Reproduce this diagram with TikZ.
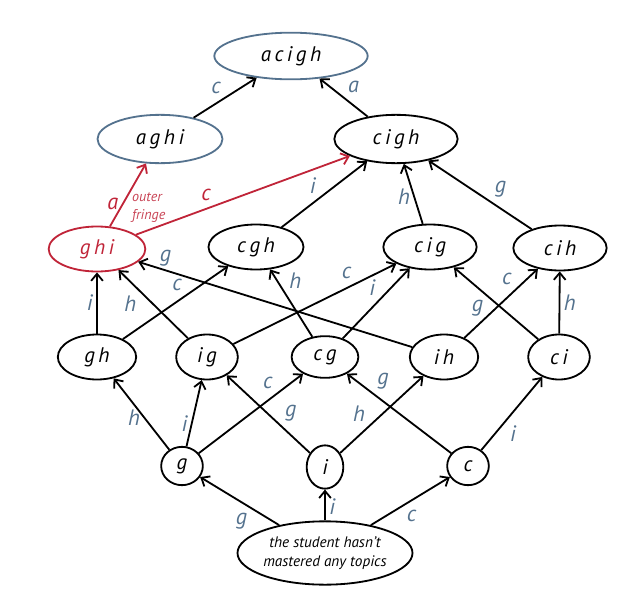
\documentclass[tikz,border=0pt]{standalone}
\usepackage{fontspec}
\setmainfont{PT Sans}
\usepackage{tikz}
\usetikzlibrary{positioning,shapes.geometric,arrows.meta}
\definecolor{slate}{RGB}{84,114,142}
\definecolor{fringe}{RGB}{192,36,56}

\begin{document}
\begin{tikzpicture}[x=0.03cm, y=-0.03cm, >={Straight Barb[length=6pt,width=10pt]}, line width=1.55pt,
    set/.style={draw, ellipse, inner sep=0pt, font=\fontsize{18}{21}\selectfont\itshape},
    lbl/.style={text=slate, font=\fontsize{19}{22}\selectfont\itshape, inner sep=3pt},
    red/.style={draw=fringe, text=fringe}]
    \useasboundingbox (0,0) rectangle (640,615);

    % Top sets
    \node[set, draw=slate, minimum width=4.6cm, minimum height=1.4cm] (acigh) at (291, 56) {a\,c\,i\,g\,h};
    \node[set, draw=slate, minimum width=3.75cm, minimum height=1.45cm] (aghi) at (160, 139) {a\,g\,h\,i};
    \node[set, minimum width=3.7cm, minimum height=1.45cm] (cigh) at (396, 139) {c\,i\,g\,h};

    % Sets of three
    \node[set, red, minimum width=2.9cm, minimum height=1.35cm] (ghi) at (97, 249) {g\,h\,i};
    \node[set, minimum width=2.85cm, minimum height=1.35cm] (cgh) at (256, 247) {c\,g\,h};
    \node[set, minimum width=2.8cm, minimum height=1.35cm] (cig) at (430, 247) {c\,i\,g};
    \node[set, minimum width=2.8cm, minimum height=1.35cm] (cih) at (560, 248) {c\,i\,h};

    % Sets of two
    \node[set, minimum width=2.35cm, minimum height=1.35cm] (gh) at (97, 357) {g\,h};
    \node[set, minimum width=1.85cm, minimum height=1.35cm] (ig) at (207, 357) {i\,g};
    \node[set, minimum width=2.0cm, minimum height=1.25cm] (cg) at (325, 357) {c\,g};
    \node[set, minimum width=2.05cm, minimum height=1.35cm] (ih) at (444, 357) {i\,h};
    \node[set, minimum width=1.85cm, minimum height=1.35cm] (ci) at (559, 357) {c\,i};

    % Single topics
    \node[set, minimum width=1.25cm, minimum height=1.15cm] (g) at (182, 466) {g};
    \node[set, minimum width=1.1cm, minimum height=1.3cm] (i) at (325, 467) {i};
    \node[set, minimum width=1.25cm, minimum height=1.15cm] (c) at (468, 466) {c};

    % Start
    \node[set, minimum width=5.25cm, minimum height=1.9cm, align=center,
        font=\fontsize{13}{16}\selectfont\itshape] (none) at (325, 553)
        {the student hasn’t\\mastered any topics};

    % Start to single topics
    \draw[->] (none) -- node[lbl, below left, pos=0.35] {g} (g);
    \draw[->] (none) -- node[lbl, right, pos=0.45] {i} (i);
    \draw[->] (none) -- node[lbl, below right, pos=0.4] {c} (c);

    % Single topics to pairs
    \draw[->] (g) -- node[lbl, left, pos=0.45] {h} (gh);
    \draw[->] (g) -- node[lbl, left, pos=0.35] {i} (ig);
    \draw[->] (g) -- node[lbl, above left, pos=0.75] {c} (cg);
    \draw[->] (i) -- node[lbl, above right, pos=0.35] {g} (ig);
    \draw[->] (i) -- node[lbl, above left, pos=0.35] {h} (ih);
    \draw[->] (c) -- node[lbl, above right, pos=0.75] {g} (cg);
    \draw[->] (c) -- node[lbl, below right, pos=0.4] {i} (ci);

    % Pairs to triples
    \draw[->] (gh) -- node[lbl, left] {i} (ghi);
    \draw[->] (gh) -- node[lbl, above left, pos=0.6] {c} (cgh);
    \draw[->] (ig) -- node[lbl, below left, pos=0.68] {h} (ghi);
    \draw[->] (ig) -- node[lbl, above left, pos=0.75] {c} (cig);
    \draw[->] (cg) -- node[lbl, above right, pos=0.65] {h} (cgh);
    \draw[->] (cg) -- node[lbl, above left, pos=0.55] {i} (cig);
    \draw[->] (ih) -- node[lbl, above, pos=0.9] {g} (ghi);
    \draw[->] (ih) -- node[lbl, above left, pos=0.7] {c} (cih);
    \draw[->] (ci) -- node[lbl, below left, pos=0.6] {g} (cig);
    \draw[->] (ci) -- node[lbl, right] {h} (cih);

    % Triples to quads
    \draw[->, draw=fringe] (ghi) -- node[lbl, text=fringe, left, pos=0.35] {a}
        node[right=9pt, pos=0.3, inner sep=0pt, text=fringe!85, align=left, font=\fontsize{12}{15}\selectfont\itshape] {outer\\fringe} (aghi);
    \draw[->, draw=fringe] (ghi) -- node[lbl, text=fringe, above left, pos=0.37] {c} (cigh);
    \draw[->] (cgh) -- node[lbl, above left, pos=0.45] {i} (cigh);
    \draw[->] (cig) -- node[lbl, left, pos=0.45] {h} (cigh);
    \draw[->] (cih) -- node[lbl, above right, pos=0.4] {g} (cigh);

    % Quads to the top
    \draw[->] (aghi) -- node[lbl, above left, pos=0.5] {c} (acigh);
    \draw[->] (cigh) -- node[lbl, above right, pos=0.5] {a} (acigh);
\end{tikzpicture}
\end{document}
